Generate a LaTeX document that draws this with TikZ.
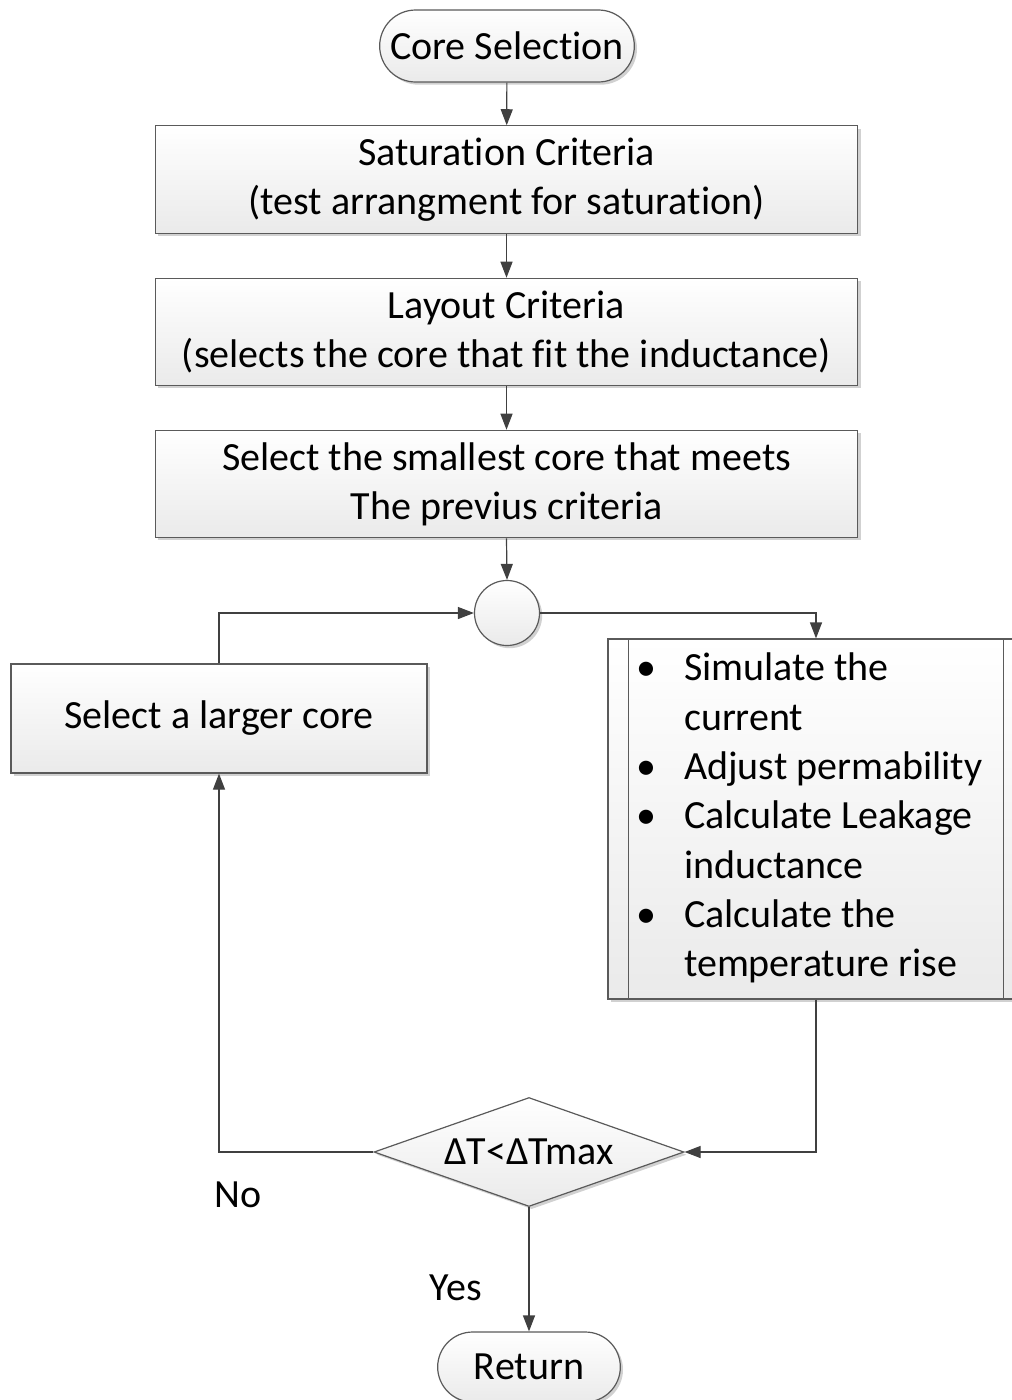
\documentclass[tikz,border=0pt]{standalone}
\usepackage{fontspec}
\setmainfont[Ligatures={NoCommon}]{Carlito}
\usetikzlibrary{arrows.meta,shapes.geometric,shapes.misc,shadows}
\definecolor{edge}{HTML}{5A5A5A}
\definecolor{wire}{HTML}{404040}
\definecolor{shadebot}{HTML}{EAEAEA}
\tikzset{
  flowfont/.style={font=\fontsize{30}{37}\selectfont},
  soft/.style={draw=edge, line width=0.9pt, top color=white, bottom color=shadebot,
    drop shadow={shadow xshift=2pt, shadow yshift=-2pt, opacity=0.18, fill=black}},
  terminal/.style={soft, rounded rectangle, flowfont, inner sep=0pt},
  stepbox/.style={soft, rectangle, flowfont, align=center, inner sep=0pt,
    minimum width=527pt, minimum height=80.5pt},
  junction/.style={soft, circle, minimum size=48.75pt, inner sep=0pt},
  decision/.style={soft, diamond, flowfont, inner sep=0pt, aspect=2.84,
    minimum width=232.5pt, minimum height=81.75pt},
  flow/.style={draw=wire, line width=0.9pt, -{Triangle[length=12pt,width=9pt]}},
  lbl/.style={flowfont, inner sep=0pt}
}
\begin{document}
\begin{tikzpicture}[x=0.75pt, y=-0.75pt]
\useasboundingbox (0,0) rectangle (1012,1400);
\clip (0,0) rectangle (1012,1400);

\node[terminal, minimum width=191pt, minimum height=54pt] (start) at (507,46) {Core Selection};
\node[stepbox] (sat) at (506.5,179.5) {Saturation Criteria\\(test arrangment for saturation)};
\node[stepbox] (lay) at (506.5,332) {Layout Criteria\\(selects the core that fit the inductance)};
\node[stepbox] (small) at (506.5,484) {Select the smallest core that meets\\The previus criteria};
\node[junction] (join) at (507,613) {};

% predefined-process box with the simulation steps
\node[soft, rectangle, minimum width=312pt, minimum height=270pt, inner sep=0pt, flowfont] (sim) at (816,819)
  {\hspace{-10pt}\begin{tabular}{@{}l@{\hspace{21pt}}l@{}}
    \textbullet & Simulate the\\
                & current\\
    \textbullet & Adjust permability\\
    \textbullet & Calculate Leakage\\
                & inductance\\
    \textbullet & Calculate the\\
                & temperature rise
  \end{tabular}};
\draw[edge, line width=0.9pt] ([xshift=15.75pt]sim.north west) -- ([xshift=15.75pt]sim.south west);
\draw[edge, line width=0.9pt] ([xshift=-15.75pt]sim.north east) -- ([xshift=-15.75pt]sim.south east);

\node[stepbox, minimum width=312pt, minimum height=81.75pt] (larger) at (219,718.5) {Select a larger core};
\node[decision] (dec) at (529,1152) {ΔT<ΔTmax};
\node[terminal, minimum width=137pt, minimum height=52.5pt] (ret) at (529,1367) {Return};

\draw[flow] (start) -- (sat);
\draw[flow] (sat) -- (lay);
\draw[flow] (lay) -- (small);
\draw[flow] (small.south) -- (join.north);
\draw[flow] (join.east) -| (sim.north);
\draw[flow] (sim.south) |- (dec.east);
\draw[flow] (dec.west) -| (larger.south);
\draw[flow] (larger.north) |- (join.west);
\draw[flow] (dec.south) -- (ret.north);

\node[lbl] (no) at (238,1195) {No};
\node[lbl] (yes) at (456,1288) {Yes};
\end{tikzpicture}
\end{document}
